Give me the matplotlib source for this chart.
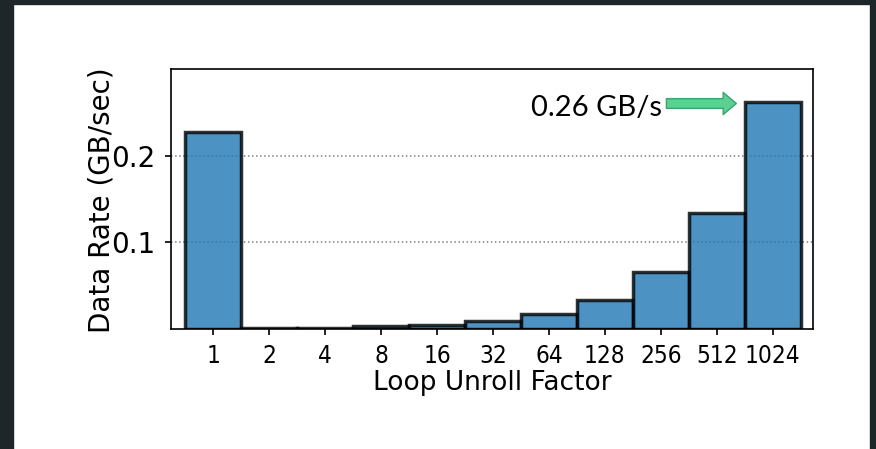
import matplotlib.pyplot as plt
from matplotlib.patches import Rectangle

# data
unroll = ['1', '2', '4', '8', '16', '32', '64', '128', '256', '512', '1024']
rate = [0.228, 0.0006, 0.0008, 0.0025, 0.0045, 0.0085, 0.017, 0.033, 0.066, 0.134, 0.263]
y_ticks = [0.1, 0.2]
peak_label = '0.26 GB/s'

W, H = 876, 449
fig = plt.figure(figsize=(W / 100, H / 100), dpi=100)
fig.patch.set_facecolor('white')
ax = fig.add_axes([171 / W, 1 - 328.5 / H, 642 / W, 259.5 / H])

x = list(range(len(unroll)))
ax.bar(x, rate, width=1.0, color='tab:blue', alpha=0.8,
       edgecolor='black', linewidth=2.5, zorder=2)

ax.set_xlim(-0.755, 10.72)
ax.set_ylim(0, 0.3015)
ax.set_xticks(x)
ax.set_xticklabels(unroll)
ax.set_yticks(y_ticks)
ax.yaxis.grid(True, linestyle=':', color='gray', linewidth=1.1)
ax.set_axisbelow(True)
for s in ax.spines.values():
    s.set_linewidth(1.2)
ax.tick_params(axis='x', length=4.5, width=1.2, pad=6.5, labelsize=17.5)
ax.tick_params(axis='y', length=4, width=1.2, pad=7, labelsize=20)
for lbl in ax.get_xticklabels():
    lbl.set_fontstretch('condensed')

ax.set_xlabel('Loop Unroll Factor', fontsize=19)
ax.xaxis.set_label_coords(0.5, -0.16)
ax.set_ylabel('Data Rate (GB/sec)', fontsize=20)
ax.yaxis.set_label_coords(-0.087, 0.495)

# peak annotation
ax.annotate('', xy=(9.35, 0.2614), xytext=(8.1, 0.2614),
            arrowprops=dict(arrowstyle='simple,head_length=0.95,head_width=1.6,tail_width=0.7',
                            mutation_scale=10, fc='#5ccf92', ec='#38a66e', lw=1,
                            shrinkA=0, shrinkB=0))
ax.text(8.02, 0.247, peak_label, ha='right', va='baseline', fontsize=21, family='Lato')

# dark screenshot border
dark = '#1f2629'
fig.add_artist(Rectangle((0, 0), 13 / W, 1, transform=fig.transFigure, color=dark, zorder=10))
fig.add_artist(Rectangle((0, 1 - 4 / H), 1, 4 / H, transform=fig.transFigure, color=dark, zorder=10))
fig.add_artist(Rectangle((870 / W, 0), 6 / W, 1, transform=fig.transFigure, color=dark, zorder=10))

fig.savefig('out.png', dpi=100)
